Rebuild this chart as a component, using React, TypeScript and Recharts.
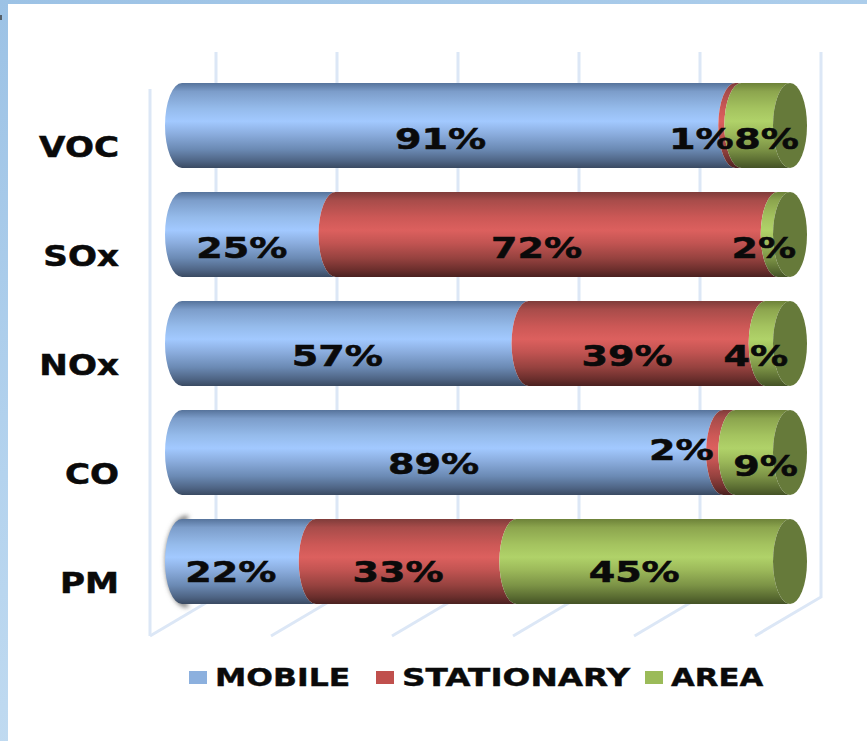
import { BarChart, Bar, XAxis, YAxis, CartesianGrid, Legend, LabelList } from 'recharts'

const CATEGORIES = ['VOC', 'SOx', 'NOx', 'CO', 'PM']
const SERIES = ['MOBILE', 'STATIONARY', 'AREA']
const MOBILE = [91, 25, 57, 89, 22]
const STATIONARY = [1, 72, 39, 2, 33]
const AREA = [8, 2, 4, 9, 45]
const SHARE_TICKS = [0, 0.2, 0.4, 0.6, 0.8, 1]

const chartData = CATEGORIES.map((name, i) => ({
  name,
  MOBILE: MOBILE[i],
  STATIONARY: STATIONARY[i],
  AREA: AREA[i],
}))

const FONT = '"DejaVu Sans", Verdana, sans-serif'
const CAP_RX = 17
const GRID = '#dce7f6'
const INK = '#0a0a0a'

// Hand placement of the percentage labels around each segment's middle: [dx, dy]
const LABEL_NUDGE: Record<string, number[][]> = {
  MOBILE: [[-18, 13], [-17, 13], [-18, 12], [-19, 11], [-18, 10]],
  STATIONARY: [[-37, 13], [-20, 13], [-20, 12], [-48, -3], [-18, 10]],
  AREA: [[1, 13], [-20, 13], [-22, 12], [3, 13], [-19, 10]],
}

const STOPS: Record<string, string[]> = {
  MOBILE: ['#56739b', '#7c9dca', '#95bbeb', '#a2c9ff', '#8badde', '#6b8ab4', '#4e6484', '#3a4a62'],
  STATIONARY: ['#7f3c3a', '#a84c4a', '#cc5856', '#dc605e', '#c25452', '#96423f', '#6a2e2c', '#4a2120'],
  AREA: ['#6d8239', '#8ca54e', '#a4c35f', '#b0d269', '#9cb95a', '#7c9346', '#596b31', '#445226'],
}
const STOP_OFFSETS = ['0%', '10%', '30%', '45%', '60%', '78%', '92%', '100%']

// Cylinder slice: both ends bulge left, the last series also gets the flat end cap
function cylinderSlice(series: string) {
  return (props: any) => {
    const { x, y, width, height, index } = props
    const midY = y + height / 2
    const d = `M${x} ${y}A${CAP_RX} ${height / 2} 0 0 0 ${x} ${y + height}L${x + width} ${y + height}A${CAP_RX} ${height / 2} 0 0 1 ${x + width} ${y}Z`
    return (
      <g>
        {series === 'MOBILE' && index === 4 && (
          <path
            d={`M${x + 6} ${y - 1}A${CAP_RX + 3} ${height / 2 + 1} 0 0 0 ${x + 6} ${y + height + 1}`}
            fill="none"
            stroke="#6f6f6f"
            strokeWidth={5}
            filter="url(#smudge)"
          />
        )}
        <path d={d} fill={`url(#grad-${series})`} />
        {series === 'AREA' && <ellipse cx={x + width} cy={midY} rx={CAP_RX} ry={height / 2} fill="#667a3a" />}
      </g>
    )
  }
}

function percentLabel(series: string) {
  return (props: any) => {
    const { x, y, width, height, value, index } = props
    const [dx, dy] = LABEL_NUDGE[series][index]
    const cx = x + width / 2 + dx
    const cy = y + height / 2 + dy + 10
    return (
      <text
        transform={`translate(${cx} ${cy}) scale(1.36 1)`}
        textAnchor="middle"
        fontFamily={FONT}
        fontWeight="bold"
        fontSize={28}
        fill={INK}
        stroke={INK}
        strokeWidth={0.5}
      >
        {value}%
      </text>
    )
  }
}

function CategoryTick(props: any) {
  const { y, payload } = props
  return (
    <text
      transform={`translate(119 ${y + 31}) scale(1.22 1)`}
      textAnchor="end"
      fontFamily={FONT}
      fontWeight="bold"
      fontSize={28}
      fill={INK}
      stroke={INK}
      strokeWidth={0.5}
    >
      {payload.value}
    </text>
  )
}

// Box walls: one back wall line plus floor diagonal per tick, and the front left edge
function WallLine(props: any) {
  const { x1, index } = props
  const backX = x1 + 34 - index * 0.6
  const frontX = x1 - 32 - index * 0.6
  return (
    <g key={`wall-${index}`} stroke={GRID} strokeWidth={3} fill="none">
      <path d={`M${backX} 52L${backX} 597L${frontX} 636`} />
      {index === 0 && <path d={`M${frontX} 89L${frontX} 636`} />}
    </g>
  )
}

const LEGEND_X = [189, 376, 645]
const LEGEND_TEXT_X = [215, 402, 671]
const LEGEND_STRETCH = [1.28, 1.33, 1.25]

function LegendRow(props: any) {
  const { payload = [] } = props
  return (
    <svg width={867} height={40} style={{ display: 'block' }}>
      {SERIES.map((name, i) => {
        const item = payload.find((p: any) => p.value === name)
        return (
          <g key={name}>
            <rect x={LEGEND_X[i]} y={11} width={18} height={13} fill={item?.color} />
            <text
              transform={`translate(${LEGEND_TEXT_X[i]} 26) scale(${LEGEND_STRETCH[i]} 1)`}
              fontFamily={FONT}
              fontWeight="bold"
              fontSize={24.6}
              fill={INK}
              stroke={INK}
              strokeWidth={0.4}
            >
              {name}
            </text>
          </g>
        )
      })}
    </svg>
  )
}

export default function App() {
  return (
    <div
      style={{
        position: 'absolute',
        left: 0,
        top: 0,
        width: 867,
        height: 741,
        overflow: 'hidden',
        background: 'linear-gradient(160deg, #9cc2e5 0%, #b4d3ee 45%, #cde2f3 100%)',
      }}
    >
      <div style={{ position: 'absolute', left: 0, top: 15, width: 2, height: 5, background: '#555f68' }} />
      <div style={{ position: 'absolute', left: 8, top: 4, width: 859, height: 737, background: '#fff' }} />
      <div style={{ position: 'absolute', left: 0, top: 0 }}>
        <BarChart
          width={867}
          height={741}
          data={chartData}
          layout="vertical"
          stackOffset="expand"
          barSize={85}
          margin={{ top: 71, right: 77, bottom: 125, left: 0 }}
        >
          <defs>
            {SERIES.map((series) => (
              <linearGradient key={series} id={`grad-${series}`} x1="0" y1="0" x2="0" y2="1">
                {STOPS[series].map((color, i) => (
                  <stop key={i} offset={STOP_OFFSETS[i]} stopColor={color} />
                ))}
              </linearGradient>
            ))}
            <filter id="smudge" x="-100%" y="-20%" width="300%" height="140%">
              <feGaussianBlur stdDeviation={2.5} />
            </filter>
          </defs>
          <CartesianGrid horizontal={false} vertical={WallLine} />
          <XAxis type="number" domain={[0, 1]} ticks={SHARE_TICKS} hide />
          <YAxis
            type="category"
            dataKey="name"
            width={182}
            axisLine={false}
            tickLine={false}
            tick={CategoryTick}
            interval={0}
          />
          <Legend
            layout="horizontal"
            verticalAlign="middle"
            align="center"
            content={LegendRow}
            wrapperStyle={{ left: 0, top: 660, width: 867, height: 40 }}
          />
          <Bar dataKey="MOBILE" stackId="a" fill="#8cb0de" shape={cylinderSlice('MOBILE')} isAnimationActive={false}>
            <LabelList dataKey="MOBILE" content={percentLabel('MOBILE')} />
          </Bar>
          <Bar dataKey="STATIONARY" stackId="a" fill="#c0504d" shape={cylinderSlice('STATIONARY')} isAnimationActive={false}>
            <LabelList dataKey="STATIONARY" content={percentLabel('STATIONARY')} />
          </Bar>
          <Bar dataKey="AREA" stackId="a" fill="#9bbb59" shape={cylinderSlice('AREA')} isAnimationActive={false}>
            <LabelList dataKey="AREA" content={percentLabel('AREA')} />
          </Bar>
        </BarChart>
      </div>
    </div>
  )
}
